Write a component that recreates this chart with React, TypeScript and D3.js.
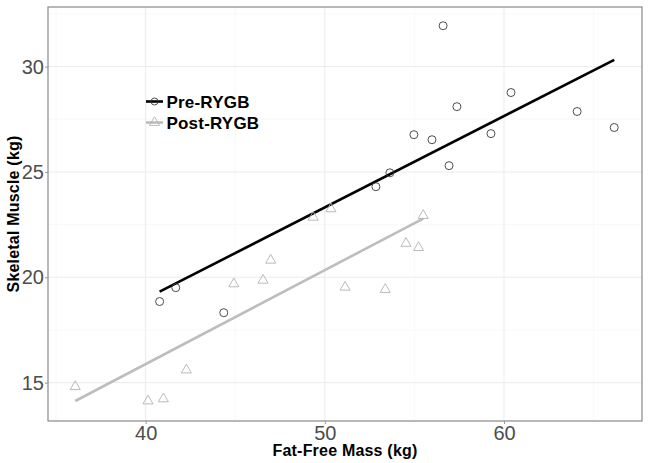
import React, { useEffect, useRef } from 'react'
import * as d3 from 'd3'

// Pre-RYGB (circles)
const preFFM = [40.78, 41.68, 44.36, 52.85, 53.63, 54.97, 55.98, 56.6, 56.93, 57.37, 59.27, 60.39, 64.08, 66.15]
const preSM = [18.85, 19.51, 18.32, 24.3, 24.96, 26.77, 26.53, 31.94, 25.3, 28.1, 26.82, 28.77, 27.87, 27.11]

// Post-RYGB (triangles)
const postFFM = [36.07, 40.13, 40.99, 42.27, 44.92, 46.55, 46.98, 49.35, 50.34, 51.13, 53.37, 54.53, 55.23, 55.49]
const postSM = [14.81, 14.13, 14.23, 15.6, 19.69, 19.86, 20.81, 22.85, 23.25, 19.53, 19.42, 21.61, 21.41, 22.93]

// fitted lines, endpoints
const preFitX = [40.78, 66.15]
const preFitY = [19.32, 30.32]
const postFitX = [36.07, 55.49]
const postFitY = [14.13, 22.79]

const xTicks = [40, 50, 60]
const yTicks = [15, 20, 25, 30]
const xMinor = [35, 45, 55, 65]
const yMinor = [17.5, 22.5, 27.5, 32.5]

const W = 650
const H = 463
const FONT = '"Liberation Sans", Arial, sans-serif'

const App = () => {
  const svgRef = useRef<SVGSVGElement>(null)

  useEffect(() => {
    const svg = d3.select(svgRef.current)
    svg.selectAll('*').remove()

    const margin = { top: 7, right: 8, bottom: 42, left: 48 }
    const x = d3.scaleLinear().domain([34.55, 67.7]).range([margin.left, W - margin.right])
    const y = d3.scaleLinear().domain([13.18, 32.83]).range([H - margin.bottom, margin.top])

    svg.append('rect').attr('width', W).attr('height', H).attr('fill', '#fff')

    // grid
    const grid = svg.append('g')
    grid.selectAll('.vmin').data(xMinor).enter().append('line')
      .attr('x1', (d) => x(d)).attr('x2', (d) => x(d))
      .attr('y1', y.range()[0]).attr('y2', y.range()[1])
      .attr('stroke', '#f5f5f5').attr('stroke-width', 0.6)
    grid.selectAll('.hmin').data(yMinor).enter().append('line')
      .attr('y1', (d) => y(d)).attr('y2', (d) => y(d))
      .attr('x1', x.range()[0]).attr('x2', x.range()[1])
      .attr('stroke', '#f5f5f5').attr('stroke-width', 0.6)
    grid.selectAll('.vmaj').data(xTicks).enter().append('line')
      .attr('x1', (d) => x(d)).attr('x2', (d) => x(d))
      .attr('y1', y.range()[0]).attr('y2', y.range()[1])
      .attr('stroke', '#ebebeb').attr('stroke-width', 1)
    grid.selectAll('.hmaj').data(yTicks).enter().append('line')
      .attr('y1', (d) => y(d)).attr('y2', (d) => y(d))
      .attr('x1', x.range()[0]).attr('x2', x.range()[1])
      .attr('stroke', '#ebebeb').attr('stroke-width', 1)

    // fit lines
    const line = d3.line<[number, number]>().x((d) => x(d[0])).y((d) => y(d[1]))
    svg.append('path')
      .attr('d', line(postFitX.map((v, i) => [v, postFitY[i]])))
      .attr('stroke', '#bdbdbd').attr('stroke-width', 2.6).attr('fill', 'none')
    svg.append('path')
      .attr('d', line(preFitX.map((v, i) => [v, preFitY[i]])))
      .attr('stroke', '#000').attr('stroke-width', 2.6).attr('fill', 'none')

    // points
    const tri = d3.symbol().type(d3.symbolTriangle).size(44)
    svg.selectAll('.tri').data(postFFM).enter().append('path')
      .attr('d', tri)
      .attr('transform', (d, i) => `translate(${x(d)},${y(postSM[i])})`)
      .attr('fill', 'none').attr('stroke', '#b3b3b3').attr('stroke-width', 0.9)
    svg.selectAll('.circ').data(preFFM).enter().append('circle')
      .attr('cx', (d) => x(d)).attr('cy', (d, i) => y(preSM[i]))
      .attr('r', 4).attr('fill', 'none').attr('stroke', '#3a3a3a').attr('stroke-width', 0.9)

    // panel border
    svg.append('rect')
      .attr('x', x.range()[0]).attr('y', y.range()[1])
      .attr('width', x.range()[1] - x.range()[0])
      .attr('height', y.range()[0] - y.range()[1])
      .attr('fill', 'none').attr('stroke', '#7f7f7f').attr('stroke-width', 1.1)

    // axes
    const xAxis = svg.append('g')
      .attr('transform', `translate(0,${y.range()[0]})`)
      .call(d3.axisBottom(x).tickValues(xTicks).tickSize(3).tickPadding(2))
    const yAxis = svg.append('g')
      .attr('transform', `translate(${x.range()[0]},0)`)
      .call(d3.axisLeft(y).tickValues(yTicks).tickSize(3).tickPadding(1))
    for (const ax of [xAxis, yAxis]) {
      ax.select('.domain').remove()
      ax.selectAll('line').attr('stroke', '#999')
      ax.selectAll('text').attr('fill', '#4d4d4d').style('font-size', '20px').style('font-family', FONT)
    }

    const titleStyle = (t: any, size: number) =>
      t.style('font-family', FONT).style('font-size', `${size}px`).style('font-weight', 'bold')
        .style('letter-spacing', '0.2px').attr('fill', '#000')

    titleStyle(svg.append('text')
      .attr('x', (x.range()[0] + x.range()[1]) / 2).attr('y', 456)
      .attr('text-anchor', 'middle'), 16)
      .text('Fat-Free Mass (kg)')
    titleStyle(svg.append('text')
      .attr('transform', `translate(18.5,${(y.range()[0] + y.range()[1]) / 2}) rotate(-90)`)
      .attr('text-anchor', 'middle'), 16)
      .text('Skeletal Muscle (kg)')

    // legend
    const legend = [
      { label: 'Pre-RYGB', color: '#000', shape: 'circle', ly: 101.5 },
      { label: 'Post-RYGB', color: '#bdbdbd', shape: 'tri', ly: 122.5 },
    ]
    legend.forEach((l) => {
      const g = svg.append('g').attr('transform', `translate(146,${l.ly})`)
      g.append('line').attr('x1', 0).attr('x2', 17).attr('stroke', l.color).attr('stroke-width', 2.6)
      if (l.shape === 'circle') {
        g.append('circle').attr('cx', 8.5).attr('r', 3.5).attr('fill', 'none').attr('stroke', '#3a3a3a').attr('stroke-width', 0.9)
      } else {
        g.append('path').attr('d', tri).attr('transform', 'translate(8.5,0)').attr('fill', 'none').attr('stroke', '#b3b3b3').attr('stroke-width', 0.9)
      }
      titleStyle(g.append('text').attr('x', 20.5).attr('y', 6.5), 17).text(l.label)
    })
  }, [])

  return <svg ref={svgRef} width={W} height={H} style={{ position: 'absolute', left: 0, top: 0 }}></svg>
}

export default App
